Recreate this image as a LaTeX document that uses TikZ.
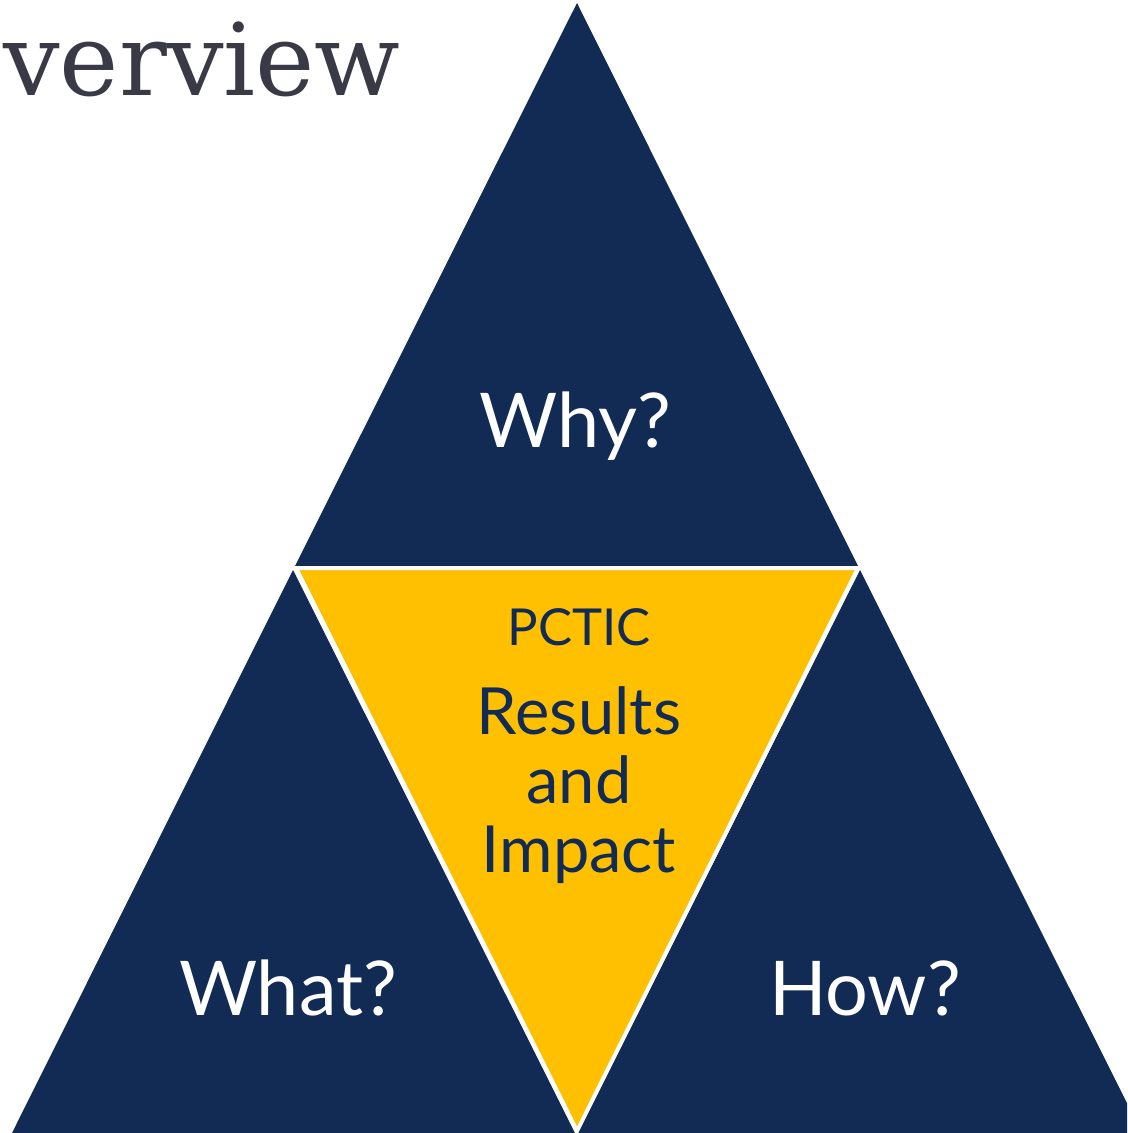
\documentclass[tikz,border=0pt]{standalone}
\usepackage{fontspec}
\setmainfont{DejaVu Serif}
\newfontfamily\labelfont{Lato}
\definecolor{navy}{HTML}{122B54}
\definecolor{gold}{HTML}{FEC000}
\definecolor{slate}{HTML}{393A46}

\begin{document}
\begin{tikzpicture}[x=0.02cm, y=-0.02cm,
side/.style={fill=navy},
middle/.style={fill=gold, draw=white, line width=0.08cm},
question/.style={anchor=base, text=white, font=\labelfont\fontsize{43}{48}\selectfont},
inner/.style={text=navy, align=center, font=\labelfont\fontsize{37}{39.5}\selectfont}]

\clip (0,0) rectangle (1127,1133);
\fill[white] (0,0) rectangle (1127,1133);

% the three outer triangles and the middle one
\fill[side] (577,3) -- (295,566) -- (858,566) -- cycle;
\fill[side] (293,570) -- (12,1133) -- (575,1133) -- cycle;
\fill[side] (860,570) -- (578,1133) -- (1142,1133) -- cycle;
\filldraw[middle] (296,568) -- (858,568) -- (577,1131) -- cycle;

\node[anchor=base east, inner sep=0pt, text=slate, font=\fontsize{57}{60}\selectfont] (title) at (401,95) {verview};

\node[question] (why) at (575,447) {Why?};
\node[question] (what) at (288,1015) {What?};
\node[question] (how) at (865,1015) {How?};

\node[inner, anchor=base, font=\labelfont\fontsize{29}{32}\selectfont] (org) at (579,645) {PCTIC};
\node[inner, anchor=north] (results) at (579,680) {Results\\and\\Impact};
\end{tikzpicture}
\end{document}
